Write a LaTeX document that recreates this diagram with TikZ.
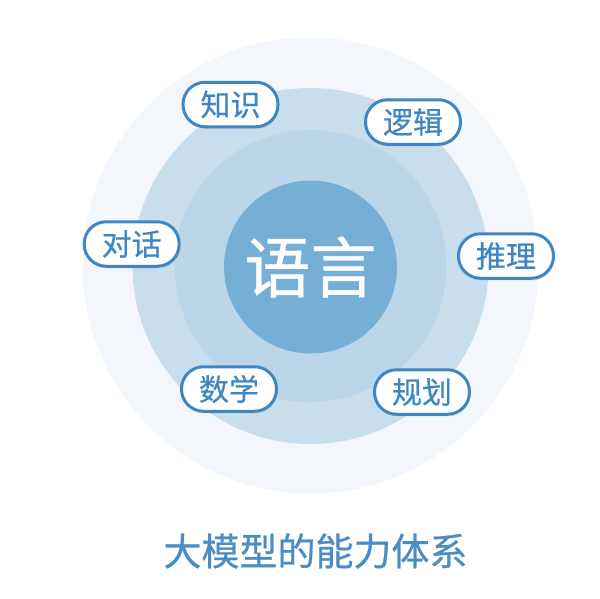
\documentclass[tikz,border=0pt]{standalone}
\usepackage{fontspec}
\setmainfont{Noto Sans CJK SC}
\newfontfamily\cjkbold[FakeBold=0.6]{Noto Sans CJK SC}
\usetikzlibrary{shadows}
\definecolor{ringA}{HTML}{F3F7FB}
\definecolor{ringB}{HTML}{C8DEED}
\definecolor{ringC}{HTML}{BAD6E8}
\definecolor{core}{HTML}{76AFD6}
\definecolor{pillblue}{HTML}{3F86C3}
\definecolor{titleblue}{HTML}{4A8DC4}
\tikzset{
  ring/.style={circle, draw=none, inner sep=0pt},
  pill/.style={draw=pillblue, line width=3pt, fill=white, rounded corners=22pt,
    minimum width=95pt, minimum height=44.5pt, inner sep=0pt,
    text=pillblue, font=\cjkbold\fontsize{30}{30}\selectfont,
    drop shadow={shadow xshift=1pt, shadow yshift=-2pt, opacity=0.18, fill=black!60}},
}
\begin{document}
\begin{tikzpicture}[x=1pt,y=-1pt]
\useasboundingbox (0,0) rectangle (600,598);
\fill[white] (0,0) rectangle (600,598);
\node[ring, fill=ringA, minimum size=456pt] (outer) at (310.5,265.5) {};
\node[ring, fill=ringB, minimum size=356pt] (middle) at (310.5,266) {};
\node[ring, fill=ringC, minimum size=272pt] (inner) at (310.5,266) {};
\node[ring, fill=core, minimum size=173pt, text=white, font=\cjkbold\fontsize{66}{66}\selectfont] (core) at (310.5,267) {语言};
\node[pill] (zhishi) at (230.5,104.5) {知识};
\node[pill] (luoji) at (413,122) {逻辑};
\node[pill] (duihua) at (131.7,244) {对话};
\node[pill] (tuili) at (506,256) {推理};
\node[pill] (shuxue) at (229,389) {数学};
\node[pill] (guihua) at (422,392) {规划};
\node[text=titleblue, font=\cjkbold\fontsize{38}{38}\selectfont] (title) at (315.5,551) {大模型的能力体系};
\end{tikzpicture}
\end{document}
